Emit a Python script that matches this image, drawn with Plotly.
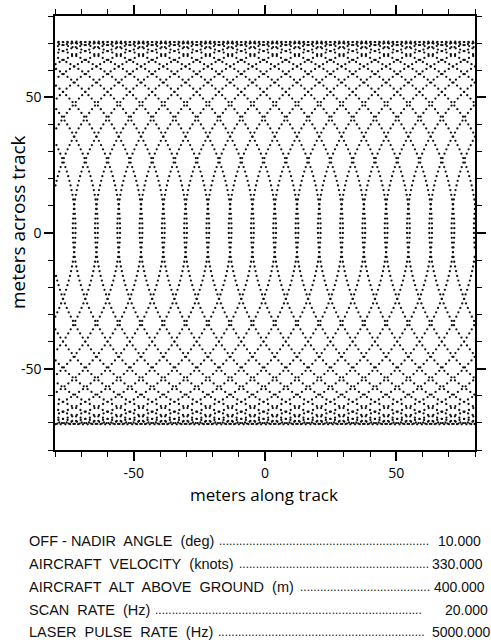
import numpy as np
import plotly.graph_objects as go

# ---- scan parameters (as printed under the chart) ----
OFF_NADIR_DEG = 10.0
VELOCITY_KNOTS = 330.0
ALTITUDE_M = 400.0
SCAN_RATE_HZ = 20.0
PULSE_RATE_HZ = 5000.0
ALONG_OFFSET_M = 1.57   # along-track position of the pattern

param_labels = [
    "OFF - NADIR  ANGLE  (deg)",
    "AIRCRAFT  VELOCITY  (knots)",
    "AIRCRAFT  ALT  ABOVE  GROUND  (m)",
    "SCAN  RATE  (Hz)",
    "LASER  PULSE  RATE  (Hz)",
]
param_values = [OFF_NADIR_DEG, VELOCITY_KNOTS, ALTITUDE_M, SCAN_RATE_HZ, PULSE_RATE_HZ]

x_tickvals = [-50, 0, 50]
y_tickvals = [-50, 0, 50]
x_range = [-80, 80]
y_range = [-80, 80]

# ---- conical scan footprint: one point per laser pulse ----
radius = ALTITUDE_M * np.tan(np.radians(OFF_NADIR_DEG))
speed = VELOCITY_KNOTS * 1852.0 / 3600.0
span = (x_range[1] - x_range[0]) / 2 + radius + 10
n_max = int(np.ceil(span / speed * PULSE_RATE_HZ))
pulse = np.arange(-n_max, n_max + 1)
t = pulse / PULSE_RATE_HZ
theta = 2 * np.pi * SCAN_RATE_HZ * t
x = ALONG_OFFSET_M + speed * t + radius * np.cos(theta)
y = radius * np.sin(theta)
keep = (x >= x_range[0]) & (x <= x_range[1])
x, y = x[keep], y[keep]

fig = go.Figure(go.Scatter(
    x=x, y=y, mode="markers",
    marker=dict(size=2.3, color="#111111", line=dict(width=0)),
    hoverinfo="skip", showlegend=False,
))

# ---- layout geometry (pixels) ----
W, H = 491, 640
L, R, T, B = 55, 16, 16, 190
pw, ph = W - L - R, H - T - B

def px(xp):
    return (xp - L) / pw

def py(yp):
    return (H - B - yp) / ph

axis_common = dict(
    showline=True, linewidth=1.6, linecolor="black", mirror="allticks",
    ticks="outside", ticklen=9, tickwidth=1.5, tickcolor="black",
    showgrid=False, zeroline=False,
    tickfont=dict(family="Open Sans", size=14, color="black"),
    minor=dict(dtick=10, ticks="outside", ticklen=5, tickwidth=1.3,
               tickcolor="black", showgrid=False),
)
fig.update_xaxes(range=x_range, tickvals=x_tickvals, ticktext=[str(v) for v in x_tickvals],
                 **axis_common)
fig.update_yaxes(range=y_range, tickvals=y_tickvals, ticktext=[str(v) for v in y_tickvals],
                 **axis_common)

annotations = [
    dict(text="meters along track", x=px(264), y=py(494), xref="paper", yref="paper",
         xanchor="center", yanchor="middle", showarrow=False,
         font=dict(family="Open Sans", size=17, color="black")),
    dict(text="meters across track", x=px(18), y=py(222), xref="paper", yref="paper",
         xanchor="center", yanchor="middle", showarrow=False, textangle=-90,
         font=dict(family="Open Sans", size=19, color="black")),
]

# Arial / Liberation Sans advance widths (per 1000 em) for the table text
ARIAL_W = {" ": 278, "\u00a0": 278, "-": 333, "(": 333, ")": 333, ".": 278,
           "A": 667, "B": 667, "C": 722, "D": 722, "E": 667, "F": 611, "G": 778,
           "H": 722, "I": 278, "L": 556, "N": 722, "O": 778, "P": 667, "R": 722,
           "S": 667, "T": 611, "U": 722, "V": 667, "Y": 667,
           "d": 556, "e": 556, "g": 556, "k": 500, "m": 833, "n": 556, "o": 556,
           "s": 500, "t": 278, "z": 500}

def text_width(s, size):
    return sum(ARIAL_W.get(c, 556) for c in s) * size / 1000.0

TABLE_SIZE = 14.5
VALUE_SIZE = 14
DOT_SIZE = 12
row_y = [541, 563.5, 586.5, 609.5, 632]
dot_end = [431, 431, 432, 424, 427]
value_right = [483, 485, 487, 490, 493]
label_left = 27
table_font = dict(family="Liberation Sans", size=TABLE_SIZE, color="#111111")
for i, (lab, val) in enumerate(zip(param_labels, param_values)):
    shown = lab.replace("  ", "\u00a0 ")
    annotations.append(dict(text=shown, x=px(label_left), y=py(row_y[i]),
                            xref="paper", yref="paper", xanchor="left", yanchor="middle",
                            showarrow=False, font=table_font))
    start = label_left + text_width(shown, TABLE_SIZE) + 6
    ndots = max(0, int((dot_end[i] - start) / (ARIAL_W["."] * DOT_SIZE / 1000.0)))
    annotations.append(dict(text="." * ndots, x=px(dot_end[i]), y=py(row_y[i]),
                            xref="paper", yref="paper", xanchor="right", yanchor="middle",
                            showarrow=False,
                            font=dict(family="Liberation Sans", size=DOT_SIZE, color="#111111")))
    annotations.append(dict(text=f"{val:.3f}", x=px(value_right[i]), y=py(row_y[i]),
                            xref="paper", yref="paper", xanchor="right", yanchor="middle",
                            showarrow=False,
                            font=dict(family="Liberation Sans", size=VALUE_SIZE, color="#111111")))

fig.update_layout(
    width=W, height=H, margin=dict(l=L, r=R, t=T, b=B, autoexpand=False),
    paper_bgcolor="white", plot_bgcolor="white",
    annotations=annotations,
)

fig.write_html("out.html", config={"displayModeBar": False},
               post_script="document.body.style.margin='0px';document.body.style.padding='0px';")
